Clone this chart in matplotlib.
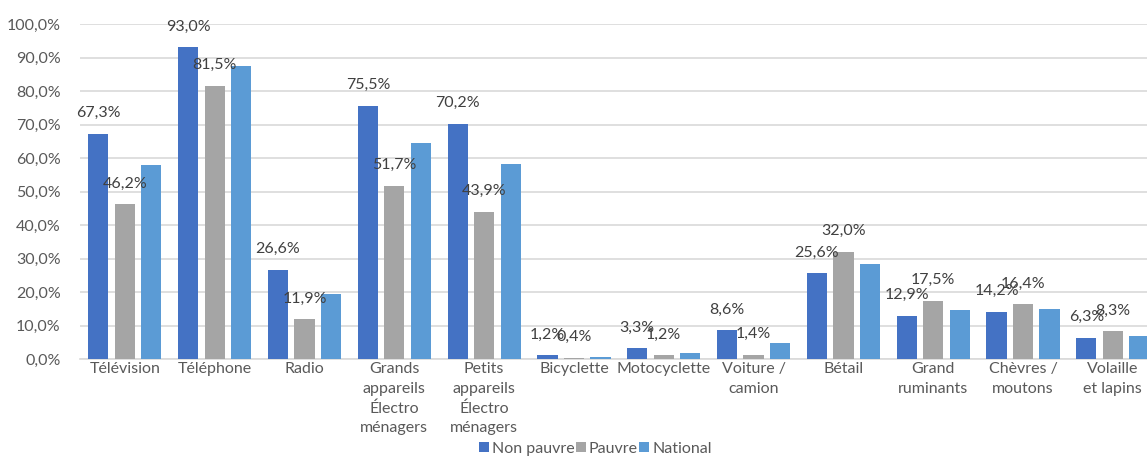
import matplotlib.pyplot as plt
import numpy as np

categories = ['Télévision', 'Téléphone', 'Radio', 'Grands\nappareils\nÉlectro\nménagers',
              'Petits\nappareils\nÉlectro\nménagers', 'Bicyclette', 'Motocyclette',
              'Voiture /\ncamion', 'Bétail', 'Grand\nruminants', 'Chèvres /\nmoutons',
              'Volaille\net lapins']
non_pauvre = [67.3, 93.0, 26.6, 75.5, 70.2, 1.2, 3.3, 8.6, 25.6, 12.9, 14.2, 6.3]
pauvre = [46.2, 81.5, 11.9, 51.7, 43.9, 0.4, 1.2, 1.4, 32.0, 17.5, 16.4, 8.3]
national = [57.8, 87.6, 19.6, 64.6, 58.2, 0.8, 2.0, 4.8, 28.3, 14.7, 15.0, 7.0]
series_names = ['Non pauvre', 'Pauvre', 'National']
yticks = np.arange(0, 101, 10)

plt.rcParams['font.family'] = ['Lato', 'DejaVu Sans']

fig = plt.figure(figsize=(11.47, 4.57), dpi=100)
ax = fig.add_axes([0.0697, 0.2138, 0.9303, 0.7337])

x = np.arange(len(categories))
step = 0.295
width = 0.225
colors = ['#4472C4', '#A5A5A5', '#5B9BD5']
series = [non_pauvre, pauvre, national]

for i, (vals, name, col) in enumerate(zip(series, series_names, colors)):
    pos = x + (i - 1) * step
    ax.bar(pos, vals, width, color=col, label=name, zorder=3)
    if i < 2:
        for px, v in zip(pos, vals):
            ax.annotate(('%.1f%%' % v).replace('.', ','), (px, v),
                        xytext=(0, 15), textcoords='offset points',
                        ha='center', va='center', fontsize=11.5, color='#404040',
                        zorder=4)

ax.set_xlim(-0.5, 11.38)
ax.set_ylim(0, 100)
ax.set_yticks(yticks)
ax.set_yticklabels([('%.1f%%' % t).replace('.', ',') for t in yticks])
ax.set_xticks(x)
ax.set_xticklabels(categories, linespacing=1.5)
ax.tick_params(axis='both', length=0, labelsize=11.5, labelcolor='#595959')
ax.tick_params(axis='y', pad=14)
ax.tick_params(axis='x', pad=2)
ax.grid(axis='y', color='#D9D9D9', lw=1.2, zorder=0)
for pos in ['right', 'top', 'left']:
    ax.spines[pos].set_visible(False)
ax.spines['bottom'].set_color('#D9D9D9')
ax.spines['bottom'].set_linewidth(1.2)

fig.legend(loc='center', bbox_to_anchor=(0.519, 0.0175), ncol=3, frameon=False,
           fontsize=11.5, handlelength=0.6, handleheight=0.6, handletextpad=0.2,
           columnspacing=0.1, labelcolor='#595959')

fig.savefig('out.png', dpi=100)
